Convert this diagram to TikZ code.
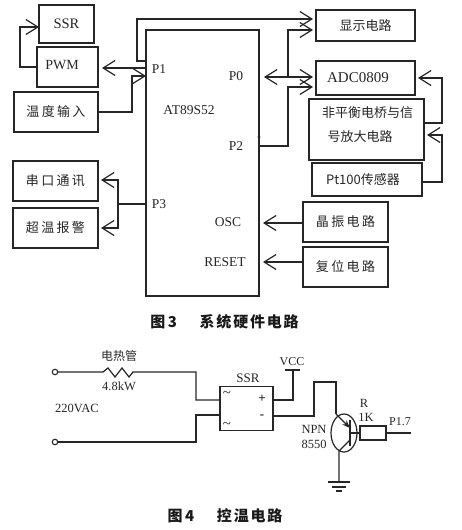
\documentclass[tikz,border=0pt]{standalone}
\usepackage{fontspec}
\setmainfont{Liberation Serif}
\newfontfamily\cjk{Noto Sans CJK SC}
\newfontfamily\cjks[LetterSpace=18]{Noto Sans CJK SC}
\newfontfamily\cjkc[LetterSpace=12]{Noto Sans CJK SC}
\usetikzlibrary{arrows.meta,calc,shapes.geometric}
\tikzset{
  box/.style={draw=black!85,line width=1.3pt,inner sep=0pt,outer sep=0pt,align=center,text=black!85},
  wire/.style={draw=black!85,line width=1.2pt,line join=miter},
  arr/.style={wire,-{Straight Barb[length=12pt,width=15pt,line width=1.2pt]}},
  dbl/.style={wire,{Straight Barb[length=12pt,width=15pt,line width=1.2pt]}-{Straight Barb[length=12pt,width=15pt,line width=1.2pt]}},
  lab/.style={inner sep=0pt,text=black!85,font=\fontsize{13.5}{14}\selectfont},
  small/.style={lab,font=\fontsize{12.5}{14}\selectfont},
  zh/.style={font=\cjks\fontsize{13}{17}\selectfont},
  zhb/.style={font=\cjk\fontsize{13}{17}\selectfont},
  capt/.style={inner sep=0pt,text=black!90,font=\cjkc\bfseries\fontsize{15}{16}\selectfont},
  term/.style={draw=black!85,circle,line width=1.1pt,minimum size=5.5pt,inner sep=0pt,outer sep=0pt},
}
\begin{document}
\begin{tikzpicture}[x=1pt,y=-1pt]
\useasboundingbox (0,0) rectangle (462,530);
% --- Figure 3 boxes
\node[box,minimum width=55pt,minimum height=38pt] (ssrb) at (66.5,24) {\fontsize{14.5}{15}\selectfont SSR};
\node[box,minimum width=61pt,minimum height=40pt] (pwm) at (67.5,67) {\hspace*{-11pt}\raisebox{4pt}{\fontsize{14}{15}\selectfont PWM}};
\node[box,zh,minimum width=84pt,minimum height=40pt] (tin) at (56,112) {温度输入};
\node[box,zh,minimum width=85pt,minimum height=40pt] (com) at (55.5,181) {串口通讯};
\node[box,zh,minimum width=85pt,minimum height=40pt] (alm) at (55.5,228) {超温报警};
\node[box,minimum width=113pt,minimum height=266pt] (mcu) at (202.5,163) {};
\node[box,zhb,minimum width=99pt,minimum height=31pt] (disp) at (365.5,25.5) {\raisebox{-2pt}{显示电路}};
\node[box,minimum width=99pt,minimum height=34pt] (adc) at (365.5,78) {\hspace*{-15pt}\fontsize{15}{16}\selectfont ADC0809};
\node[box,minimum width=115pt,minimum height=61pt] (brg) at (366.5,129.5) {};
\node[lab,zhb] (brg1) at (367.5,113) {非平衡电桥与信};
\node[lab,zhb] (brg2) at (360,137) {号放大电路};
\node[box,zhb,minimum width=110pt,minimum height=33pt] (pt) at (367,179.5) {\hspace*{-8pt}Pt100传感器};
\node[box,zh,minimum width=85pt,minimum height=40pt] (osc) at (345.5,222) {\raisebox{2pt}{晶振电路}};
\node[box,zh,minimum width=85pt,minimum height=40pt] (rst) at (345.5,267) {复位电路};
% --- MCU labels
\node[lab] (lp1) at (159,69) {P1};
\node[lab] (lat) at (189,110) {AT89S52};
\node[lab] (lp0) at (236,76) {P0};
\node[lab] (lp2) at (236,146) {P2};
\node[lab] (lp3) at (159,204) {P3};
\node[lab] (losc) at (228,222) {OSC};
\node[lab] (lrs) at (225,262) {RESET};
% --- Figure 3 connectors
\draw[arr] (pwm.west) -- (20,67) -- (20,27) -- (ssrb.west |- 0,27);
\draw[arr] (mcu.west |- 0,68) -- ($(pwm.east |- 0,68)+(4,0)$);
\draw[arr] (tin.east) -- (132,112) -- (132,76) -- (mcu.west |- 0,76);
\draw[wire] (mcu.west |- 0,61) -- (137,61) -- (137,19) -- (240,19);
\draw[arr] (240,19) -- ($(disp.west |- 0,19)+(-3,0)$);
\draw[wire] (mcu.west |- 0,204) -- (118,204);
\draw[arr] (118,204) -- (118,180) -- ($(com.east |- 0,180)+(3,0)$);
\draw[arr] (118,204) -- (118,228) -- ($(alm.east |- 0,228)+(3,0)$);
\draw[dbl] (264,77) -- ($(adc.west |- 0,77)+(-3,0)$);
\draw[arr] (288,77) -- (288,30) -- ($(disp.west |- 0,30)+(-3,0)$);
\draw[arr] (mcu.east |- 0,146) -- (288,146) -- (288,87) -- ($(adc.west |- 0,87)+(-3,0)$);
\draw[arr] (brg.east |- 0,123) -- (442,123) -- (442,78) -- ($(adc.east |- 0,78)+(3,0)$);
\draw[arr] (pt.east |- 0,182) -- (442,182) -- (442,135) -- ($(brg.east |- 0,135)+(3,0)$);
\draw[arr] (osc.west |- 0,223) -- (263,223);
\draw[arr] (rst.west |- 0,262) -- (263,262);
\fill[black!85] (mcu.east |- 0,137) circle (1.6pt);
\node[capt] (c3) at (224.5,322) {图\,3\quad\, 系统硬件电路};
% --- Figure 4
\node[term] (t1) at (55,372) {};
\node[term] (t2) at (55,442) {};
\node[box,minimum width=53pt,minimum height=44pt] (ssr2) at (246.5,408.5) {};
\node[small,font=\fontsize{13}{14}\selectfont] (ls) at (248,378) {SSR};
\node[lab,font=\fontsize{15}{15}\selectfont] (t3) at (227,394) {\textasciitilde};
\node[lab,font=\fontsize{15}{15}\selectfont] (t4) at (227,425) {\textasciitilde};
\node[lab,font=\bfseries\fontsize{13}{13}\selectfont] (lplus) at (262,399) {+};
\node[lab,font=\bfseries\fontsize{13}{13}\selectfont] (lminus) at (262,417) {-};
\coordinate (r1) at (103,372);
\coordinate (r2) at (137,372);
\draw[wire] (t1) -- (r1) -- ++(5,-4) -- ++(7,9) -- ++(7,-9) -- ++(7,9) -- ++(4,-5) -- (r2) -- (196,372) -- (196,400) -- (ssr2.west |- 0,400);
\draw[wire] (t2) -- (196,442) -- (196,415) -- (ssr2.west |- 0,415);
\node[lab,font=\cjk\fontsize{12}{14}\selectfont] (lh) at (119,356) {电热管};
\node[small] (lw) at (119,386) {4.8kW};
\node[small] (lv) at (77,408) {220VAC};
\node[small,font=\fontsize{12}{14}\selectfont] (lvcc) at (292,362) {VCC};
\coordinate (vcc) at (293,370);
\draw[wire] (ssr2.east |- 0,400) -- (293,400) -- (vcc);
\draw[wire] (285,370) -- (300,370);
\node[draw=black!85,line width=1.2pt,ellipse,minimum width=26pt,minimum height=38pt,inner sep=0pt,outer sep=0pt] (q) at (344,433) {};
\draw[black!85,line width=2.8pt] (350,420) -- (350,446);
\draw[wire] (ssr2.east |- 0,416) -- (314,416) -- (314,382) -- (336,382) -- (336,414);
\draw[wire,-{Stealth[length=8pt,width=6pt]}] (336,414) -- (350,428);
\draw[wire] (350,440) -- (339,451) -- (339,481);
\node[box,minimum width=26pt,minimum height=14pt] (rb) at (373,433) {};
\draw[wire] (350,433) -- (rb.west);
\coordinate (p17) at (411,433);
\draw[wire] (rb.east) -- (p17);
\draw[wire] (328,482) -- (350,482);
\draw[wire] (332,487) -- (346,487);
\draw[wire] (336,491) -- (342,491);
\node[small] (lr) at (364,403) {R};
\node[small] (lk) at (366,417) {1K};
\node[small,font=\fontsize{12}{14}\selectfont] (lp17) at (400,422) {P1.7};
\node[small] (ln) at (314,429) {NPN};
\node[small] (l85) at (314,444) {8550};
\node[capt] (c4) at (225,516) {图\,4\quad\, 控温电路};
\end{tikzpicture}
\end{document}
